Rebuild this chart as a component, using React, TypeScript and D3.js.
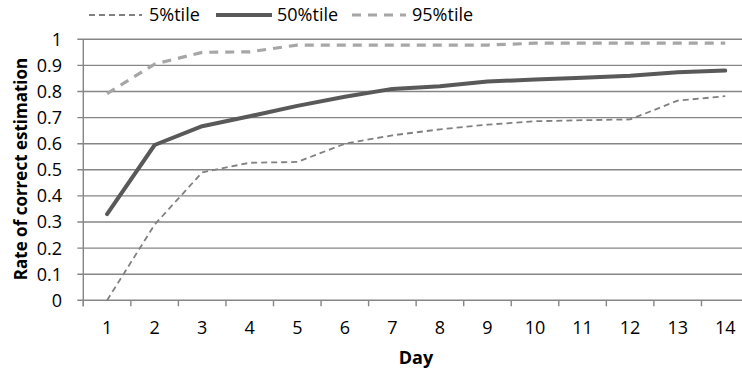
import React from "react";
import * as d3 from "d3";

const days = ["1","2","3","4","5","6","7","8","9","10","11","12","13","14"];
const p5 = [0, 0.29, 0.49, 0.527, 0.53, 0.6, 0.632, 0.655, 0.673, 0.686, 0.69, 0.693, 0.765, 0.782];
const p50 = [0.33, 0.595, 0.667, 0.705, 0.745, 0.78, 0.81, 0.82, 0.838, 0.846, 0.853, 0.86, 0.874, 0.88];
const p95 = [0.792, 0.905, 0.95, 0.952, 0.978, 0.978, 0.978, 0.978, 0.978, 0.985, 0.985, 0.985, 0.985, 0.985];
const yTicks = [0, 0.1, 0.2, 0.3, 0.4, 0.5, 0.6, 0.7, 0.8, 0.9, 1];
const seriesNames = ["5%tile", "50%tile", "95%tile"];

const W = 742, H = 372;
const left = 83.3, right = 749, top = 39.3, bottom = 300.3;
const font = "'Open Sans', 'Noto Sans', sans-serif";

export default function App() {
  const x = d3.scaleBand<string>().domain(days).range([left, right]);
  const y = d3.scaleLinear().domain([0, 1]).range([bottom, top]);
  const line = d3.line<number>().x((_, i) => (x(days[i]) as number) + x.bandwidth() / 2).y(d => y(d));
  const styles = [
    { stroke: "#808080", width: 1.8, dash: "6,4" },
    { stroke: "#595959", width: 4, dash: "" },
    { stroke: "#a6a6a6", width: 3.2, dash: "9,7" },
  ];
  const data = [p5, p50, p95];
  const legendX = [[89, 142, 149], [216, 272, 277], [352, 406, 412]];
  return (
    <svg width={W} height={H} style={{ position: "absolute", left: 0, top: 0, background: "#fff" }}>
      {yTicks.map(t => (
        <g key={t}>
          <line x1={left - 6} x2={W} y1={y(t)} y2={y(t)} stroke="#868686" strokeWidth={1.4} />
          <text x={62} y={y(t)} dy="0.36em" textAnchor="end" fontFamily={font} fontSize={18} fill="#000">{t}</text>
        </g>
      ))}
      <line x1={left} x2={left} y1={top} y2={bottom + 6} stroke="#868686" strokeWidth={1.4} />
      {days.map((d, i) => (
        <g key={d}>
          <line x1={(x(d) as number)} x2={(x(d) as number)} y1={bottom} y2={bottom + 6} stroke="#868686" strokeWidth={1.4} />
          <text x={(x(d) as number) + x.bandwidth() / 2} y={334} textAnchor="middle" fontFamily={font} fontSize={18} fill="#000">{d}</text>
        </g>
      ))}
      {data.map((s, i) => (
        <path key={i} d={line(s) as string} fill="none" stroke={styles[i].stroke} strokeWidth={styles[i].width}
          strokeDasharray={styles[i].dash || undefined} strokeLinejoin="round" strokeLinecap={i === 1 ? "round" : "butt"} />
      ))}
      {seriesNames.map((n, i) => (
        <g key={n}>
          <line x1={legendX[i][0]} x2={legendX[i][1]} y1={15} y2={15} stroke={styles[i].stroke} strokeWidth={styles[i].width}
            strokeDasharray={styles[i].dash || undefined} />
          <text x={legendX[i][2]} y={15} dy="0.36em" fontFamily={font} fontSize={18} fill="#000">{n}</text>
        </g>
      ))}
      <text x={416} y={364} textAnchor="middle" fontFamily={font} fontSize={18} fontWeight="bold" fill="#000">Day</text>
      <text transform={`translate(27,169) rotate(-90)`} textAnchor="middle" fontFamily={font} fontSize={17} fontWeight="bold" fill="#000">Rate of correct estimation</text>
    </svg>
  );
}
